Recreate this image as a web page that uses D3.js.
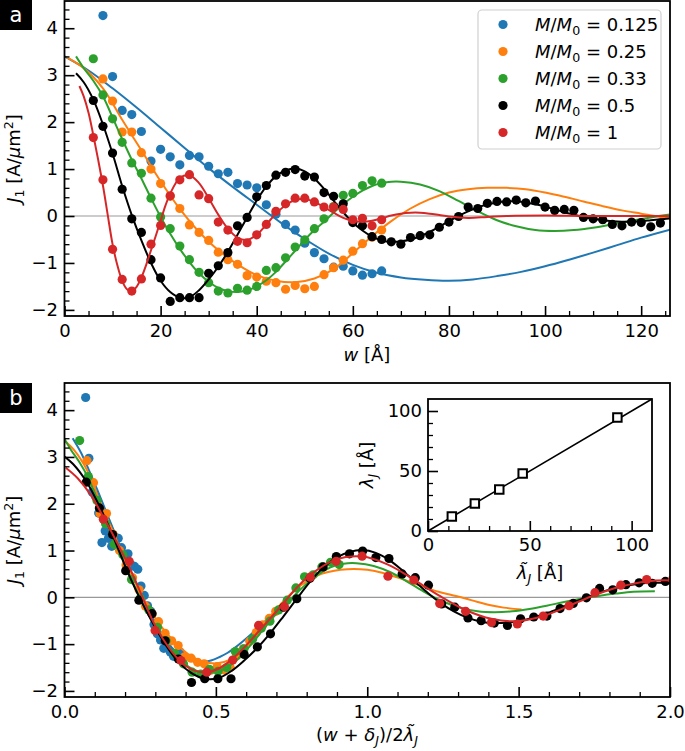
<!DOCTYPE html>
<html>
<head>
<meta charset="utf-8">
<script src="https://cdn.jsdelivr.net/npm/d3@7.9.0/dist/d3.min.js"></script>
<style>
  body { margin: 0; background: #fff; }
  svg { display: block; font-family: "DejaVu Sans", sans-serif; }
</style>
</head>
<body>
<svg id="chart" width="685" height="751"></svg>
<script>
// measured points, w in Angstrom, J1 in A/um^2
const blueW = [8,10,12,14,16,18,20,22,24,26,28,30,32,34,36,38,40,42,44,46,48,50,52,54,56,58,60,62,64,66];
const blueJ = [4.27,2.97,2.25,2.16,1.80,1.17,1.42,1.26,1.09,1.29,1.26,1.06,0.90,0.93,0.69,0.66,0.60,0.24,0.04,-0.18,-0.30,-0.58,-0.78,-0.91,-1.09,-1.07,-1.17,-1.26,-1.23,-1.17];
const orangeW = [8,10,12,14,16,18,20,22,24,26,28,30,32,34,36,38,40,42,44,46,48,50,52,54,56,58,60,62,64,66];
const orangeJ = [2.92,2.45,1.79,1.79,1.35,1.00,0.69,0.42,0.16,-0.19,-0.35,-0.52,-0.77,-0.93,-1.03,-1.27,-1.30,-1.39,-1.42,-1.56,-1.48,-1.55,-1.50,-1.25,-1.10,-0.94,-0.75,-0.59,-0.45,-0.30];
const greenW = [6,8,10,12,14,16,18,20,22,24,26,28,30,32,34,36,38,40,42,44,46,48,50,52,54,56,58,60,62,64,66];
const greenJ = [3.35,2.58,2.07,1.57,1.13,0.91,0.38,-0.02,-0.27,-0.64,-0.93,-1.20,-1.42,-1.60,-1.64,-1.54,-1.58,-1.50,-1.16,-1.10,-0.89,-0.66,-0.51,-0.27,-0.06,0.20,0.44,0.48,0.65,0.75,0.70];
const blackW = [6,8,10,12,14,16,18,20,22,24, 26,28,30,32,34,36,38,40,42,44,
  46,48,50,52,54,56,58,60,62,64, 66,68,70,72,74,76,78,80,82,84,
  86,88,90,92,94,96,98,100,102,104, 106,108,110,112,114,116,118,120,122,124];
const blackJ = [2.46,1.91,1.34,0.57,-0.06,-0.35,-0.93,-1.32,-1.82,-1.74,
  -1.74,-1.74,-1.22,-1.06,-0.78,-0.21,-0.03,0.41,0.65,0.87,
  0.93,0.99,0.85,0.83,0.50,0.42,0.26,-0.14,-0.21,-0.44,
  -0.50,-0.55,-0.60,-0.46,-0.42,-0.40,-0.24,-0.13,-0.01,0.19,
  0.16,0.27,0.31,0.30,0.34,0.28,0.32,0.19,0.12,0.14,
  0.12,-0.03,-0.06,-0.08,-0.18,-0.21,-0.13,-0.14,-0.23,-0.15];
const redW = [6,8,10,12,14,16,18,20,22,24,26,28,30,32,34,36,38,40,42,44,46,48,50,52,54,56,58,60,62,64,66];
const redJ = [1.67,0.77,-0.71,-1.35,-1.60,-1.34,-0.60,-0.20,0.43,0.77,0.88,0.45,0.37,-0.13,-0.30,-0.54,-0.57,-0.40,-0.18,0.10,0.26,0.38,0.38,0.30,0.19,0.19,0.14,-0.08,-0.05,-0.21,-0.08];

// fitted curves (extending past 126 where panel b still shows them)
const blueFitW = [0,5,10,15,20,25,30,35,40,45,50,55,60,65,70,75,80,85,90,95,100,105,110,115,120,126];
const blueFitJ = [3.40,3.10,2.72,2.31,1.88,1.45,1.02,0.62,0.24,-0.14,-0.49,-0.80,-1.04,-1.21,-1.31,-1.36,-1.38,-1.35,-1.28,-1.19,-1.07,-0.93,-0.78,-0.62,-0.46,-0.29];
const orangeFitW = [0.5,4,8,12,16,20,24,28,32,36,40,44,48,52,56,60,64,68,72,76,80,84,88,92,96,100,104,108,112,116,120,124,128,132,136,141.5];
const orangeFitJ = [3.38,3.15,2.72,2.05,1.40,0.74,0.15,-0.34,-0.73,-1.03,-1.26,-1.38,-1.41,-1.33,-1.13,-0.79,-0.43,-0.11,0.16,0.36,0.50,0.57,0.60,0.60,0.57,0.50,0.41,0.31,0.21,0.12,0.05,-0.02,-0.10,-0.17,-0.22,-0.26];
const greenFitW = [2.4,4,6,8,10,12,14,16,18,20,22,24,26,28,30,32,34,36,38,40,42,44,46,48,50,52,54,56,58,60,62,64,66,68,70,74,78,82,86,90,94,98,102,106,110,114,118,122,126,130,134,139];
const greenFitJ = [3.40,3.15,2.88,2.55,2.10,1.64,1.20,0.80,0.38,-0.02,-0.38,-0.70,-0.98,-1.22,-1.40,-1.53,-1.60,-1.62,-1.58,-1.50,-1.37,-1.19,-0.97,-0.74,-0.51,-0.30,-0.12,0.07,0.25,0.41,0.54,0.64,0.70,0.73,0.73,0.67,0.53,0.32,0.10,-0.09,-0.22,-0.30,-0.32,-0.30,-0.25,-0.18,-0.10,-0.03,0.03,0.08,0.12,0.13];
const blackFitW = [2.4,4,6,8,10,12,14,16,18,20,22,24,26,28,30,32,34,36,38,40,42,44,46,48,50,52,54,56,58,60,62,64,66,68,70,72,74,76,78,80,82,84,86,88,90,92,94,96,98,100,102,104,106,108,110,112,114,116,118,120,122,124,126];
const blackFitJ = [3.04,2.85,2.48,1.95,1.33,0.64,0.02,-0.52,-1.00,-1.38,
  -1.62,-1.74,-1.73,-1.58,-1.35,-1.08,-0.76,-0.40,-0.03,0.33,
  0.63,0.85,0.97,1.01,0.95,0.80,0.58,0.33,0.08,-0.14,
  -0.31,-0.44,-0.52,-0.55,-0.54,-0.50,-0.43,-0.34,-0.23,-0.11,
  0.00,0.10,0.18,0.25,0.29,0.31,0.31,0.29,0.25,0.20,
  0.14,0.08,0.03,-0.02,-0.06,-0.09,-0.11,-0.12,-0.12,-0.11,
  -0.09,-0.07,-0.05];
const redFitW = [3.1,4,5,6,7,8,9,10,11,12,13,14,15,16,17,18,19,20,21,22,24,26,28,30,32,34,36,38,40,42,44,46,48,50,52,54,56,58,60,62,64,66,68,70,72,74,76,78,80,84,88,92,100,110,126];
const redFitJ = [2.77,2.55,2.20,1.72,1.20,0.65,0.02,-0.60,-1.05,-1.38,
  -1.56,-1.60,-1.51,-1.31,-1.04,-0.73,-0.42,-0.10,0.22,0.48,
  0.81,0.87,0.70,0.38,0.03,-0.27,-0.46,-0.51,-0.40,-0.18,
  0.05,0.23,0.34,0.36,0.30,0.19,0.07,-0.04,-0.10,-0.12,
  -0.10,-0.05,0.01,0.05,0.07,0.07,0.05,0.02,-0.01,-0.04,
  -0.02,0.00,0.01,0.00,0.00];

// per series: M/M0, lambda tilde (inset x), lambda (inset y), offset delta
const ratios = ['0.125', '0.25', '0.33', '0.5', '1'];
const lambdaTilde = [93, 46.5, 35, 23, 11.7];
const lambdaJ = [94.5, 48, 34.5, 23, 12];
const deltaJ = [5, -1.1, -2.5, -2.7, -3];
const colors = ['#1f77b4', '#ff7f0e', '#2ca02c', '#000000', '#d62728'];

const pts = [[blueW, blueJ], [orangeW, orangeJ], [greenW, greenJ], [blackW, blackJ], [redW, redJ]];
const fits = [[blueFitW, blueFitJ], [orangeFitW, orangeFitJ], [greenFitW, greenFitJ], [blackFitW, blackFitJ], [redFitW, redFitJ]];

const svg = d3.select('#chart');
const FS = 18;
const minus = (v) => v < 0 ? '\u2212' + Math.abs(v) : String(v);

// very small mathtext: parts = [text, style] with style among '', 'i', 'sub', 'isub', 'sup'
function mathText(sel, parts, size) {
  let off = 0;
  parts.forEach(([t, st]) => {
    const target = st.includes('sub') ? size * 0.24 : st.includes('sup') ? -size * 0.4 : 0;
    const ts = sel.append('tspan').text(t).attr('dy', target - off);
    off = target;
    if (st.includes('sub') || st.includes('sup')) ts.attr('font-size', size * 0.7);
    if (st === 'i' || st === 'isub') ts.attr('font-style', 'italic');
  });
}

function drawAxes(g, x, y, xMaj, xMin, yMaj, yMin, xFmt, yFmt, pad) {
  const [y0] = y.range(), [x0] = x.range();
  const style = (a, w) => {
    a.select('.domain').remove();
    a.selectAll('line').attr('stroke', '#000').attr('stroke-width', w);
    a.selectAll('text').attr('font-size', FS).attr('font-family', '"DejaVu Sans", sans-serif').attr('fill', '#000');
  };
  g.append('g').attr('transform', `translate(0,${y0})`)
    .call(d3.axisBottom(x).tickValues(xMin).tickSize(-5).tickSizeOuter(0).tickFormat(''))
    .call(a => style(a, 1.3));
  g.append('g').attr('transform', `translate(0,${y0})`)
    .call(d3.axisBottom(x).tickValues(xMaj).tickSize(-10).tickSizeOuter(0).tickPadding(pad.x).tickFormat(xFmt))
    .call(a => style(a, 1.6));
  g.append('g').attr('transform', `translate(${x0},0)`)
    .call(d3.axisLeft(y).tickValues(yMin).tickSize(-5).tickSizeOuter(0).tickFormat(''))
    .call(a => style(a, 1.3));
  g.append('g').attr('transform', `translate(${x0},0)`)
    .call(d3.axisLeft(y).tickValues(yMaj).tickSize(-10).tickSizeOuter(0).tickPadding(pad.y).tickFormat(yFmt))
    .call(a => style(a, 1.6));
  const [xa, xb] = x.range(), [ya, yb] = y.range();
  g.append('rect').attr('x', xa).attr('y', yb).attr('width', xb - xa).attr('height', ya - yb)
    .attr('fill', 'none').attr('stroke', '#000').attr('stroke-width', 1.8);
}

function drawPanel(id, x, y, xOf, xMaj, xMin, xFmt) {
  const g = svg.append('g');
  const [xa, xb] = x.range(), [ya, yb] = y.range();
  svg.append('clipPath').attr('id', id).append('rect')
    .attr('x', xa).attr('y', yb).attr('width', xb - xa).attr('height', ya - yb);
  g.append('line').attr('x1', xa).attr('x2', xb).attr('y1', y(0)).attr('y2', y(0))
    .attr('stroke', '#999').attr('stroke-width', 1.2);
  const data = g.append('g').attr('clip-path', `url(#${id})`);
  const line = d3.line().x(d => x(d[0])).y(d => y(d[1])).curve(d3.curveCatmullRom.alpha(0.5));
  pts.forEach(([ws, js], i) => {
    const p = ws.map((w, k) => [xOf(w, i), js[k]]);
    data.append('g').selectAll('circle').data(p).join('circle')
      .attr('cx', d => x(d[0])).attr('cy', d => y(d[1])).attr('r', 4.6).attr('fill', colors[i]);
    const [fw, fj] = fits[i];
    data.append('path').datum(fw.map((w, k) => [xOf(w, i), fj[k]]))
      .attr('d', line).attr('fill', 'none').attr('stroke', colors[i]).attr('stroke-width', 2);
  });
  drawAxes(g, x, y, xMaj, xMin, [-2, -1, 0, 1, 2, 3, 4],
    d3.range(-2, 4.5, 0.2).map(v => +v.toFixed(1)).filter(v => !Number.isInteger(v)),
    xFmt, minus, { x: 8, y: 6.5 });
  return g;
}

// panel a
const xA = d3.scaleLinear([0, 126], [64.5, 670]);
const yA = d3.scaleLinear([-2.13, 4.58], [316, 1]);
const gA = drawPanel('clipA', xA, yA, (w) => w,
  [0, 20, 40, 60, 80, 100, 120], d3.range(5, 126, 5).filter(v => v % 20 !== 0), d3.format('d'));

// panel b
const xB = d3.scaleLinear([0, 2], [64.5, 670]);
const yB = d3.scaleLinear([-2.13, 4.58], [697, 383]);
const gB = drawPanel('clipB', xB, yB, (w, i) => (w + deltaJ[i]) / (2 * lambdaTilde[i]),
  [0, 0.5, 1, 1.5, 2], d3.range(1, 20).filter(v => v % 5 !== 0).map(v => v / 10), d3.format('.1f'));

// axis labels
[[gA, 158.5], [gB, 540]].forEach(([g, cy]) => {
  const t = g.append('text').attr('transform', `translate(20,${cy}) rotate(-90)`)
    .attr('text-anchor', 'middle').attr('font-size', FS);
  mathText(t, [['J', 'i'], ['1', 'sub'], [' [A/', ''], ['\u03bc', 'i'], ['m', ''], ['2', 'sup'], [']', '']], FS);
});
mathText(gA.append('text').attr('x', 367).attr('y', 361).attr('text-anchor', 'middle').attr('font-size', FS),
  [['w', 'i'], [' [\u00c5]', '']], FS);
mathText(gB.append('text').attr('x', 367).attr('y', 741).attr('text-anchor', 'middle').attr('font-size', FS),
  [['(', ''], ['w', 'i'], [' + ', ''], ['\u03b4', 'i'], ['J', 'isub'], [')/2', ''], ['\u03bb\u0303', 'i'], ['J', 'isub']], FS);

// panel tags
[['a', 0], ['b', 383]].forEach(([s, y0]) => {
  svg.append('rect').attr('x', 0).attr('y', y0).attr('width', 32).attr('height', 30).attr('fill', '#000');
  svg.append('text').attr('x', 16).attr('y', y0 + 15).attr('dy', '0.35em').attr('text-anchor', 'middle')
    .attr('fill', '#fff').attr('font-size', 21).text(s);
});

// legend
const leg = svg.append('g');
leg.append('rect').attr('x', 478).attr('y', 10).attr('width', 183).attr('height', 139).attr('rx', 4)
  .attr('fill', '#fff').attr('fill-opacity', 0.8).attr('stroke', '#d0d0d0').attr('stroke-width', 1.2);
ratios.forEach((r, i) => {
  const cy = 24.5 + 27 * i;
  leg.append('circle').attr('cx', 503).attr('cy', cy).attr('r', 4.6).attr('fill', colors[i]);
  const t = leg.append('text').attr('x', 535).attr('y', cy + 6.5).attr('font-size', FS);
  mathText(t, [['M', 'i'], ['/', ''], ['M', 'i'], ['0', 'sub'], [' = ' + r, '']], FS);
});

// inset: lambda vs lambda tilde
const xI = d3.scaleLinear([0, 110], [428, 652]);
const yI = d3.scaleLinear([0, 110], [531, 399]);
const gI = svg.append('g');
gI.append('rect').attr('x', 428).attr('y', 399).attr('width', 224).attr('height', 132).attr('fill', '#fff');
gI.append('line').attr('x1', xI(0)).attr('y1', yI(0)).attr('x2', xI(110)).attr('y2', yI(110))
  .attr('stroke', '#000').attr('stroke-width', 1.6);
gI.selectAll('path.sq').data(lambdaTilde.map((v, i) => [v, lambdaJ[i]])).join('path')
  .attr('class', 'sq')
  .attr('transform', d => `translate(${xI(d[0])},${yI(d[1])})`)
  .attr('d', d3.symbol(d3.symbolSquare, 72))
  .attr('fill', '#fff').attr('stroke', '#000').attr('stroke-width', 2);
drawAxes(gI, xI, yI, [0, 50, 100], [10, 20, 30, 40, 60, 70, 80, 90],
  [0, 50, 100], [10, 20, 30, 40, 60, 70, 80, 90],
  d3.format('d'), d3.format('d'), { x: 7, y: 6 });
mathText(gI.append('text').attr('x', 540).attr('y', 579).attr('text-anchor', 'middle').attr('font-size', FS),
  [['\u03bb\u0303', 'i'], ['J', 'isub'], [' [\u00c5]', '']], FS);
mathText(gI.append('text').attr('transform', 'translate(373,465) rotate(-90)').attr('text-anchor', 'middle').attr('font-size', FS),
  [['\u03bb', 'i'], ['J', 'isub'], [' [\u00c5]', '']], FS);
</script>
</body>
</html>
